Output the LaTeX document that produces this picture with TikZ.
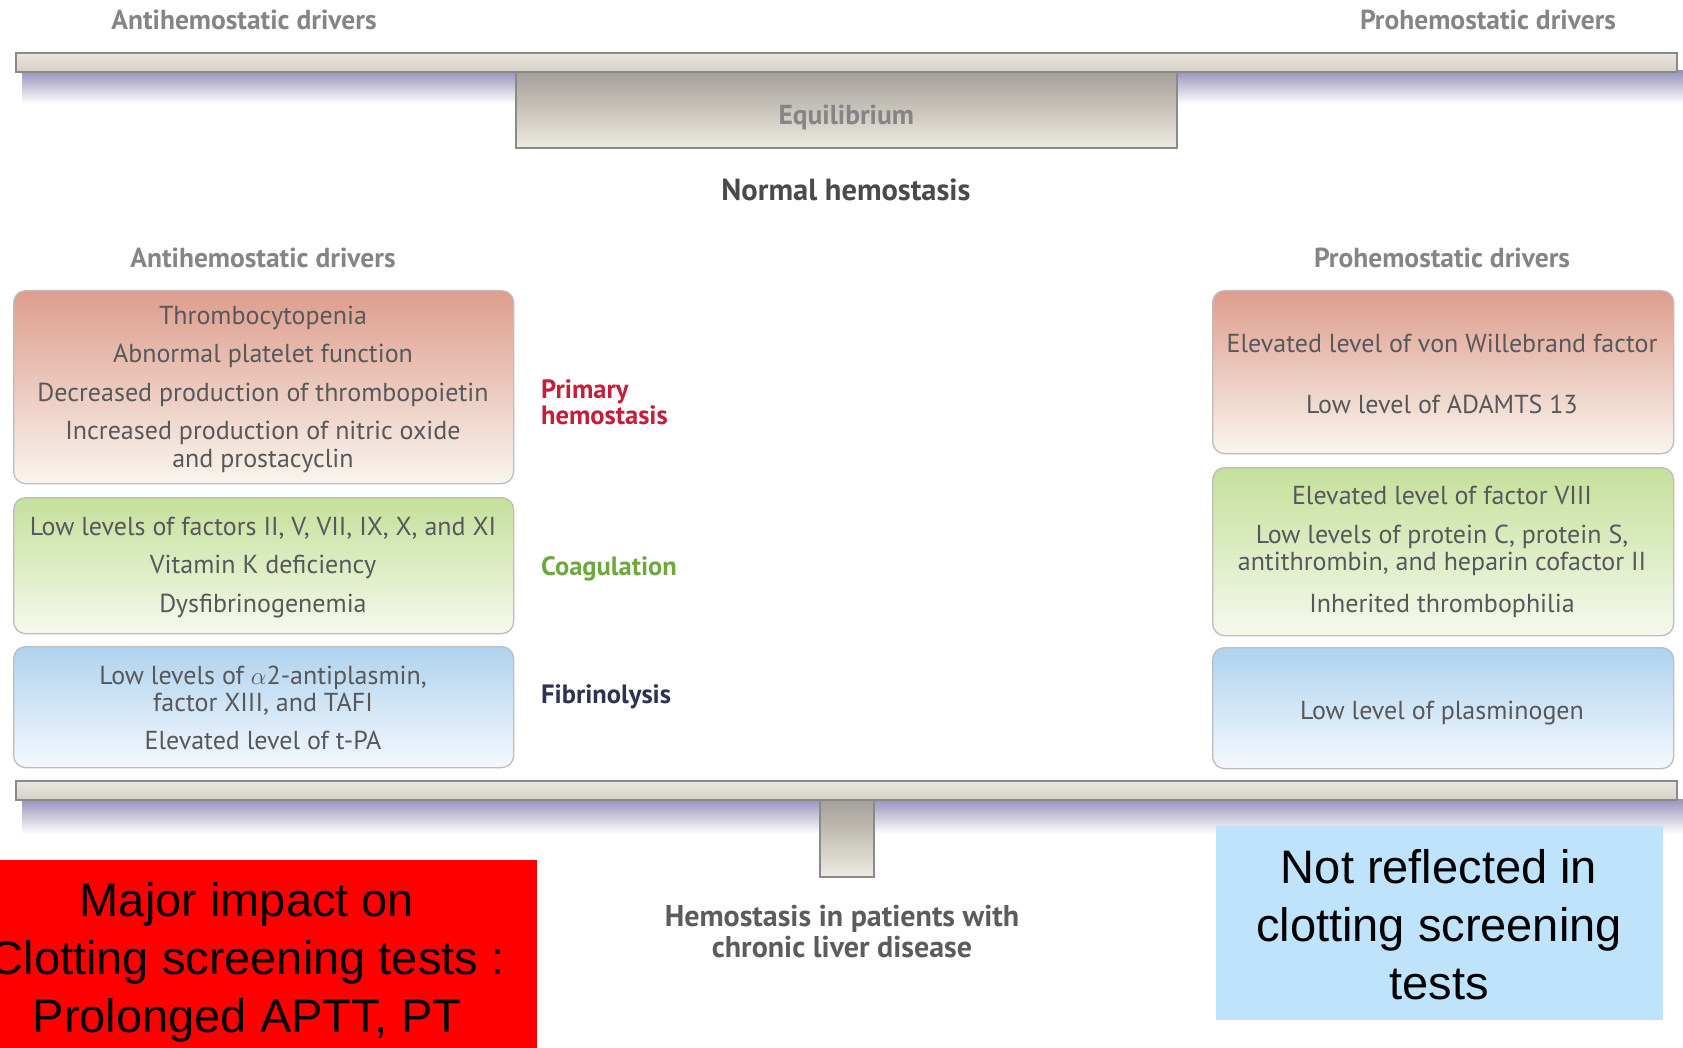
\documentclass[tikz,border=0pt]{standalone}
\usepackage{fontspec}
\setmainfont{PT Sans}
\newfontfamily\arialf{Liberation Sans}
\definecolor{txt}{HTML}{58585A}
\definecolor{hdrgray}{HTML}{858585}
\definecolor{darkhdr}{HTML}{4A4A4A}
\definecolor{boxborder}{HTML}{BDBDBD}
\definecolor{barborder}{HTML}{8A8A8A}
\definecolor{shadowc}{RGB}{152,146,188}
\definecolor{redtop}{RGB}{222,157,141}
\definecolor{redbot}{RGB}{249,245,238}
\definecolor{greentop}{RGB}{197,224,155}
\definecolor{greenbot}{RGB}{245,249,237}
\definecolor{bluetop}{RGB}{175,211,239}
\definecolor{bluebot}{RGB}{244,248,253}
\definecolor{primred}{HTML}{C41E3A}
\definecolor{coaggreen}{HTML}{6CA83C}
\definecolor{fibnavy}{HTML}{2E3150}
\definecolor{overlayblue}{RGB}{190,227,250}
\tikzset{
  itm/.style={font=\fontsize{26}{28}\selectfont, text=txt, anchor=mid, inner sep=0pt},
  hdr/.style={font=\bfseries\fontsize{27.5}{30}\selectfont, text=hdrgray, inner sep=0pt},
  lbl/.style={font=\bfseries\fontsize{26.5}{26}\selectfont, anchor=west, align=left, inner sep=0pt},
  sbox/.style={draw=boxborder, line width=1.3pt, rounded corners=12pt, anchor=north west, inner sep=0pt},
  barbox/.style={draw=barborder, line width=1.6pt, top color={rgb,255:red,234;green,231;blue,223}, bottom color={rgb,255:red,214;green,209;blue,199}, anchor=north west, inner sep=0pt},
  postbox/.style={draw=barborder, line width=1.6pt, top color={rgb,255:red,164;green,159;blue,152}, bottom color={rgb,255:red,238;green,235;blue,225}, anchor=north west, inner sep=0pt},
  bigtxt/.style={font=\arialf\fontsize{47}{58}\selectfont, text=black, align=center, inner sep=0pt},
}
\begin{document}
\begin{tikzpicture}[x=1pt,y=-1pt]
\useasboundingbox (0,0) rectangle (1683,1048);
\clip (0,0) rectangle (1683,1048);
% top headers
\node[hdr] (tl) at (244,20) {Antihemostatic drivers};
\node[hdr] (tr) at (1488,20) {Prohemostatic drivers};
% top balance
\fill[top color=shadowc, bottom color=white] (22,71) rectangle (1683,104);
\node[barbox, minimum width=1661pt, minimum height=19pt] (topbar) at (15,52) {};
\node[postbox, minimum width=661pt, minimum height=76pt] (equi) at (515,71) {};
\node[font=\bfseries\fontsize{27.5}{30}\selectfont, text=hdrgray] (eqtxt) at ([yshift=-8pt]equi.center) {Equilibrium};
\node[font=\bfseries\fontsize{30.5}{32}\selectfont, text=darkhdr] (normal) at (846,190) {Normal hemostasis};
% column headers
\node[hdr] (antih) at (263,258) {Antihemostatic drivers};
\node[hdr] (proh) at (1442,258) {Prohemostatic drivers};
% left boxes
\node[sbox, top color=redtop, bottom color=redbot, minimum width=500pt, minimum height=193pt] (lred) at (13,290) {};
\node[sbox, top color=greentop, bottom color=greenbot, minimum width=500pt, minimum height=136pt] (lgreen) at (13,497) {};
\node[sbox, top color=bluetop, bottom color=bluebot, minimum width=500pt, minimum height=121pt] (lblue) at (13,646) {};
% right boxes
\node[sbox, top color=redtop, bottom color=redbot, minimum width=461pt, minimum height=163pt] (rred) at (1212,290) {};
\node[sbox, top color=greentop, bottom color=greenbot, minimum width=461pt, minimum height=168pt] (rgreen) at (1212,467) {};
\node[sbox, top color=bluetop, bottom color=bluebot, minimum width=461pt, minimum height=121pt] (rblue) at (1212,647) {};
% left texts
\node[itm] (l1) at (263,322) {Thrombocytopenia};
\node[itm] (l2) at (263,360) {Abnormal platelet function};
\node[itm] (l3) at (263,399) {Decreased production of thrombopoietin};
\node[itm] (l4) at (263,437) {Increased production of nitric oxide};
\node[itm] (l5) at (263,465) {and prostacyclin};
\node[itm] (l6) at (263,533) {Low levels of factors II, V, VII, IX, X, and XI};
\node[itm] (l7) at (263,571) {Vitamin K deficiency};
\node[itm] (l8) at (263,610) {Dysfibrinogenemia};
\node[itm] (l9) at (263,682) {Low levels of $\alpha$2-antiplasmin,};
\node[itm] (l10) at (263,709) {factor XIII, and TAFI};
\node[itm] (l11) at (263,747) {Elevated level of t-PA};
% right texts
\node[itm] (r1) at (1442,350) {Elevated level of von Willebrand factor};
\node[itm] (r2) at (1442,411) {Low level of ADAMTS 13};
\node[itm] (r3) at (1442,502) {Elevated level of factor VIII};
\node[itm] (r4) at (1442,541) {Low levels of protein C, protein S,};
\node[itm] (r5) at (1442,568) {antithrombin, and heparin cofactor II};
\node[itm] (r6) at (1442,610) {Inherited thrombophilia};
\node[itm] (r7) at (1442,717) {Low level of plasminogen};
% middle labels
\node[lbl, text=primred] (prim) at (541,402) {Primary\\hemostasis};
\node[lbl, text=coaggreen] (coag) at (541,569) {Coagulation};
\node[lbl, text=fibnavy] (fibr) at (541,697) {Fibrinolysis};
% bottom balance
\fill[top color=shadowc, bottom color=white] (22,799) rectangle (1683,834);
\node[barbox, minimum width=1661pt, minimum height=19pt] (botbar) at (15,780) {};
\node[postbox, minimum width=54pt, minimum height=77pt] (stem) at (819,799) {};
\node[font=\bfseries\fontsize{30}{31}\selectfont, text=darkhdr!90, align=center] (liver) at (842,932) {Hemostasis in patients with\\chronic liver disease};
% overlays
\fill[red] (0,860) rectangle (537,1048);
\node[bigtxt] (major) at (247,962) {Major impact on\\Clotting screening tests :\\Prolonged APTT, PT};
\fill[overlayblue] (1216,826) rectangle (1663,1020);
\node[bigtxt] (notref) at (1439,925) {Not reflected in\\clotting screening\\tests};
\end{tikzpicture}
\end{document}
